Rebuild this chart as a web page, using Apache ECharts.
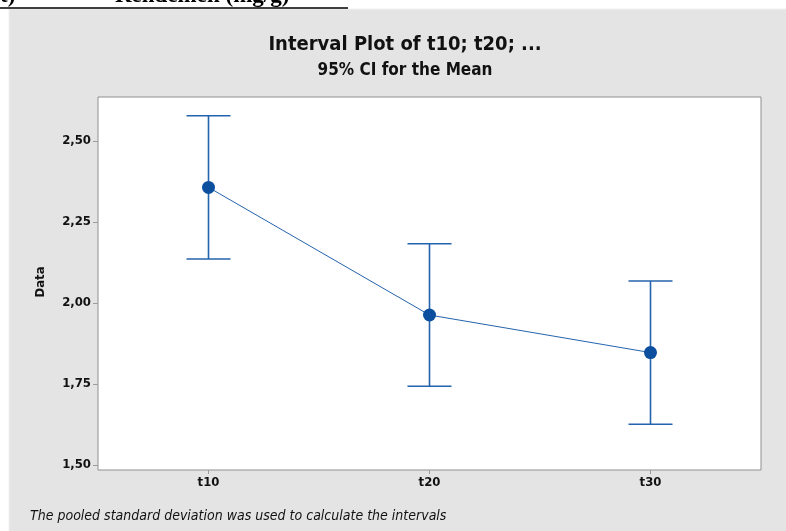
<!DOCTYPE html>
<html>
<head>
<meta charset="utf-8">
<script src="https://cdn.jsdelivr.net/npm/echarts@6/dist/echarts.min.js"></script>
<style>
  html, body { margin: 0; padding: 0; background: #ffffff; }
  #chart { width: 786px; height: 531px; }
</style>
</head>
<body>
<div id="chart"></div>
<script>
// Groups and their 95% confidence intervals for the mean
const categories = ['t10', 't20', 't30'];
const means = [2.357, 1.963, 1.847];
const lowerCI = [2.136, 1.743, 1.626];
const upperCI = [2.578, 2.183, 2.068];
const yTicks = [1.50, 1.75, 2.00, 2.25, 2.50];

const blue = '#2463ad';
const dotBlue = '#0c4f9e';
const narrow = '"Liberation Sans Narrow", "DejaVu Sans Condensed", sans-serif';

const chart = echarts.init(document.getElementById('chart'), null, { renderer: 'canvas' });

const intervalData = categories.map((c, i) => [i, lowerCI[i], upperCI[i]]);

chart.setOption({
  animation: false,
  backgroundColor: '#ffffff',
  graphic: [
    // grey panel behind the plot
    { type: 'rect', z: -10, shape: { x: 9, y: 9, width: 800, height: 540 },
      style: { fill: '#e4e4e4', stroke: '#f0f0f0', lineWidth: 1 } },
    // caption line above the panel (clipped at the top of the page)
    { type: 'text', x: 0, y: 8, style: { text: 't)', font: 'bold 23px "Liberation Serif", serif',
      fill: '#000', textVerticalAlign: 'bottom' } },
    { type: 'text', x: 115, y: 8, style: { text: 'Rendemen (mg/g)', font: 'bold 23px "Liberation Serif", serif',
      fill: '#000', textVerticalAlign: 'bottom' } },
    { type: 'line', shape: { x1: 0, y1: 8, x2: 348, y2: 8 }, style: { stroke: '#000', lineWidth: 1.5 } },
    // titles
    { type: 'text', x: 405, y: 45, style: { text: 'Interval Plot of t10; t20; ...', font: 'bold 20px ' + narrow,
      fill: '#111', textAlign: 'center', textVerticalAlign: 'middle' } },
    { type: 'text', x: 405, y: 71, style: { text: '95% CI for the Mean', font: 'bold 17px ' + narrow,
      fill: '#111', textAlign: 'center', textVerticalAlign: 'middle' } },
    // y-axis name
    { type: 'text', x: 41, y: 282, rotation: Math.PI / 2, style: { text: 'Data', font: 'bold 13px ' + narrow,
      fill: '#111', textAlign: 'center', textVerticalAlign: 'middle' } },
    // footnote
    { type: 'text', x: 30, y: 516, style: { text: 'The pooled standard deviation was used to calculate the intervals',
      font: 'italic 14px ' + narrow, fill: '#111', textVerticalAlign: 'middle' } }
  ],
  grid: {
    left: 98, top: 97, right: 25, bottom: 61,
    show: true, backgroundColor: '#ffffff', borderColor: '#8f8f8f', borderWidth: 1
  },
  xAxis: {
    type: 'category',
    data: categories,
    boundaryGap: true,
    axisLine: { show: false },
    axisTick: { show: true, alignWithLabel: true, length: 4, lineStyle: { color: '#9c9c9c' } },
    axisLabel: { margin: 6, color: '#111', fontFamily: narrow, fontWeight: 'bold', fontSize: 13 },
    splitLine: { show: false }
  },
  yAxis: {
    type: 'value',
    min: 1.4846,
    max: 2.636,
    axisLine: { show: false },
    axisTick: { show: true, length: 5, customValues: yTicks, lineStyle: { color: '#9c9c9c' } },
    axisLabel: {
      customValues: yTicks, margin: 7, color: '#111', fontFamily: narrow, fontWeight: 'bold', fontSize: 13,
      formatter: v => v.toFixed(2).replace('.', ',')
    },
    splitLine: { show: false }
  },
  series: [
    {
      type: 'custom',
      data: intervalData,
      z: 2,
      renderItem: (params, api) => {
        const x = api.value(0);
        const lo = api.coord([x, api.value(1)]);
        const hi = api.coord([x, api.value(2)]);
        const half = 22;
        const style = { stroke: blue, lineWidth: 1.6 };
        return {
          type: 'group',
          children: [
            { type: 'line', shape: { x1: lo[0], y1: lo[1], x2: hi[0], y2: hi[1] }, style },
            { type: 'line', shape: { x1: hi[0] - half, y1: hi[1], x2: hi[0] + half, y2: hi[1] }, style },
            { type: 'line', shape: { x1: lo[0] - half, y1: lo[1], x2: lo[0] + half, y2: lo[1] }, style }
          ]
        };
      }
    },
    {
      type: 'line',
      data: means,
      z: 3,
      symbol: 'circle',
      symbolSize: 13,
      lineStyle: { color: blue, width: 1 },
      itemStyle: { color: dotBlue }
    }
  ]
});
</script>
</body>
</html>
